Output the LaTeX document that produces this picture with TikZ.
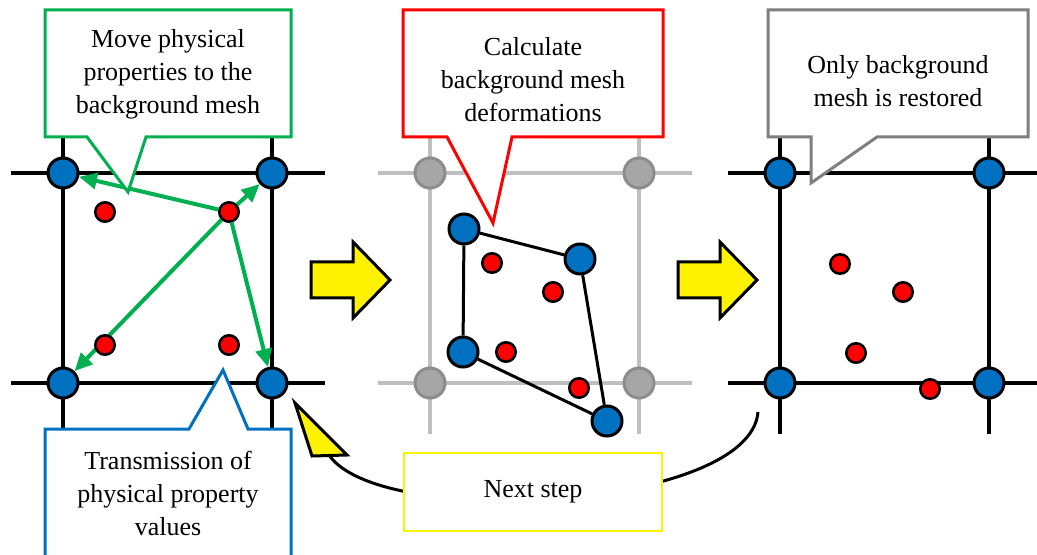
\documentclass[tikz,border=0pt]{standalone}
\usepackage{fontspec}
\setmainfont{Liberation Serif}
\usetikzlibrary{arrows.meta}
\definecolor{meshblue}{HTML}{0070C0}
\definecolor{movegreen}{HTML}{00B050}
\definecolor{notegray}{HTML}{7F7F7F}
\definecolor{gridgray}{HTML}{BFBFBF}
\definecolor{oldgray}{HTML}{A6A6A6}
\definecolor{oldgrayline}{HTML}{8C8C8C}
\tikzset{
  meshline/.style={line width=2pt},
  bluept/.style={circle, draw=black, fill=meshblue, line width=1.5pt, minimum size=15pt, inner sep=0pt},
  graypt/.style={circle, draw=oldgrayline, fill=oldgray, line width=1.5pt, minimum size=15pt, inner sep=0pt},
  redpt/.style={circle, draw=black, fill=red, line width=1.3pt, minimum size=9.7pt, inner sep=0pt},
  movearrow/.style={movegreen, line width=2pt, -{Triangle[length=9pt,width=8pt]}},
  calloutbox/.style={fill=white, line width=1.5pt, line join=miter},
  notetext/.style={align=center, font=\fontsize{13}{16.5}\selectfont, inner sep=0pt},
  stepbox/.style={draw=yellow, fill=white, line width=1.3pt, minimum width=129pt, minimum height=39pt, font=\fontsize{13}{16.5}\selectfont},
  blockarrow/.style={fill=yellow, draw=black, line width=1.5pt, line join=miter},
}
\begin{document}
\begin{tikzpicture}[x=0.5pt, y=-0.5pt]
	\useasboundingbox (0,0) rectangle (1037,555);
	\clip (0,0) rectangle (1037,555);
	% 背景网格
	\foreach \x/\c in {63/black, 430/gridgray, 780/black} {
		\draw [meshline, \c] (\x-52,173) -- (\x+262,173);
		\draw [meshline, \c] (\x-52,383) -- (\x+262,383);
		\draw [meshline, \c] (\x,130) -- (\x,434);
		\draw [meshline, \c] (\x+209,130) -- (\x+209,434);
	}
	% 左：网格点与粒子
	\node [bluept] (L1) at (63,173) {};
	\node [bluept] (L2) at (272,173) {};
	\node [bluept] (L3) at (63,383) {};
	\node [bluept] (L4) at (272,383) {};
	\node [redpt] (p2) at (229,212) {};
	\draw [movearrow] (p2) -- (L1);
	\draw [movearrow] (p2) -- (L2);
	\draw [movearrow] (p2) -- (L3);
	\draw [movearrow] (p2) -- (L4);
	\node [redpt] (p1) at (105,212) {};
	\node [redpt] (p3) at (105,345) {};
	\node [redpt] (p4) at (229,345) {};
	% 中：变形后的网格
	\node [graypt] (G1) at (430,173) {};
	\node [graypt] (G2) at (639,173) {};
	\node [graypt] (G3) at (430,383) {};
	\node [graypt] (G4) at (639,383) {};
	\node [bluept] (D1) at (464,229) {};
	\node [bluept] (D2) at (580,259) {};
	\node [bluept] (D3) at (607,421) {};
	\node [bluept] (D4) at (463,352) {};
	\draw [line width=1.5pt] (D1) -- (D2) -- (D3) -- (D4) -- (D1);
	\node [redpt] (q1) at (492,263) {};
	\node [redpt] (q2) at (553,292) {};
	\node [redpt] (q3) at (506,352) {};
	\node [redpt] (q4) at (579,388) {};
	% 右：网格复原
	\node [bluept] (R1) at (780,173) {};
	\node [bluept] (R2) at (989,173) {};
	\node [bluept] (R3) at (780,383) {};
	\node [bluept] (R4) at (989,383) {};
	\node [redpt] (s1) at (840,264) {};
	\node [redpt] (s2) at (903,292) {};
	\node [redpt] (s3) at (856,353) {};
	\node [redpt] (s4) at (930,389) {};
	% 黄色箭头
	\foreach \dx in {0,367} {
		\draw [blockarrow, shift={(\dx,0)}] (311,262) -- (353,262) -- (353,242) -- (390,280) -- (353,318) -- (353,298) -- (311,298) -- cycle;
	}
	% 下一步
	\coordinate (restart) at (758,412);
	\coordinate (headbase) at (329,455);
	\draw [line width=1.5pt] (restart) .. controls (750,510) and (380,530) .. (headbase);
	\draw [blockarrow] (295,403) -- (312,456) -- (347,455) -- cycle;
	\node [stepbox] (nextstep) at (533,492) {Next step};
	% 标注框
	\draw [calloutbox, draw=movegreen] (45,10) -- (291,10) -- (291,137) -- (146,137) -- (128,192) -- (87,137) -- (45,137) -- cycle;
	\node [notetext] (movenote) at (168,74) {Move physical\\properties to the\\background mesh};
	\draw [calloutbox, draw=red] (403,10) -- (663,10) -- (663,137) -- (512,137) -- (493,223) -- (447,137) -- (403,137) -- cycle;
	\node [notetext] (calcnote) at (533,80) {Calculate\\background mesh\\deformations};
	\draw [calloutbox, draw=notegray] (768,10) -- (1028,10) -- (1028,137) -- (877,137) -- (811,183) -- (811,137) -- (768,137) -- cycle;
	\node [notetext] (restorenote) at (898,81) {Only background\\mesh is restored};
	\draw [calloutbox, draw=meshblue] (45,429) -- (189,429) -- (223,370) -- (248,429) -- (291,429) -- (291,580) -- (45,580) -- cycle;
	\node [notetext] (sendnote) at (168,493) {Transmission of\\physical property\\values};
\end{tikzpicture}
\end{document}
